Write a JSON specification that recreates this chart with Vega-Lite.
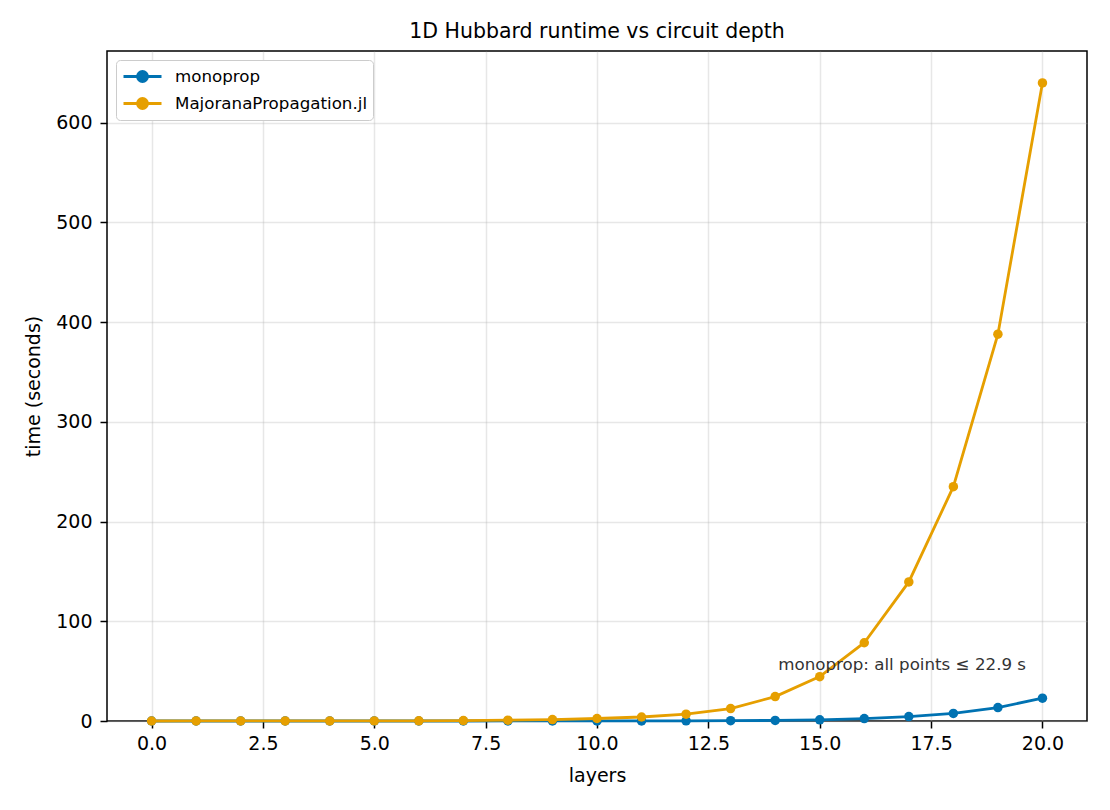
{
  "$schema": "https://vega.github.io/schema/vega-lite/v6.json",
  "width": 980,
  "height": 670,
  "autosize": "none",
  "padding": {"left": 107, "top": 51, "right": 23, "bottom": 89},
  "background": "white",
  "title": {
    "text": "1D Hubbard runtime vs circuit depth",
    "fontSize": 20.5,
    "fontWeight": "normal",
    "font": "DejaVu Sans",
    "color": "black",
    "offset": 9
  },
  "config": {
    "font": "DejaVu Sans",
    "view": {"stroke": "black", "strokeWidth": 1.5},
    "axis": {
      "domain": false,
      "grid": true,
      "gridColor": "#b0b0b0",
      "gridOpacity": 0.3,
      "gridWidth": 1.5,
      "tickColor": "black",
      "tickSize": 7,
      "tickWidth": 1.5,
      "labelFontSize": 19,
      "labelColor": "black",
      "titleFontSize": 19,
      "titleFontWeight": "normal",
      "titleColor": "black"
    }
  },
  "datasets": {
    "runs": [
      {"layers": 0, "series": "monoprop", "time": 0.001},
      {"layers": 1, "series": "monoprop", "time": 0.002},
      {"layers": 2, "series": "monoprop", "time": 0.003},
      {"layers": 3, "series": "monoprop", "time": 0.005},
      {"layers": 4, "series": "monoprop", "time": 0.007},
      {"layers": 5, "series": "monoprop", "time": 0.01},
      {"layers": 6, "series": "monoprop", "time": 0.015},
      {"layers": 7, "series": "monoprop", "time": 0.02},
      {"layers": 8, "series": "monoprop", "time": 0.03},
      {"layers": 9, "series": "monoprop", "time": 0.05},
      {"layers": 10, "series": "monoprop", "time": 0.07},
      {"layers": 11, "series": "monoprop", "time": 0.1},
      {"layers": 12, "series": "monoprop", "time": 0.15},
      {"layers": 13, "series": "monoprop", "time": 0.3},
      {"layers": 14, "series": "monoprop", "time": 0.6},
      {"layers": 15, "series": "monoprop", "time": 1.2},
      {"layers": 16, "series": "monoprop", "time": 2.4},
      {"layers": 17, "series": "monoprop", "time": 4.4},
      {"layers": 18, "series": "monoprop", "time": 7.6},
      {"layers": 19, "series": "monoprop", "time": 13.5},
      {"layers": 20, "series": "monoprop", "time": 22.9},
      {"layers": 0, "series": "MajoranaPropagation.jl", "time": 0.02},
      {"layers": 1, "series": "MajoranaPropagation.jl", "time": 0.03},
      {"layers": 2, "series": "MajoranaPropagation.jl", "time": 0.04},
      {"layers": 3, "series": "MajoranaPropagation.jl", "time": 0.06},
      {"layers": 4, "series": "MajoranaPropagation.jl", "time": 0.08},
      {"layers": 5, "series": "MajoranaPropagation.jl", "time": 0.12},
      {"layers": 6, "series": "MajoranaPropagation.jl", "time": 0.2},
      {"layers": 7, "series": "MajoranaPropagation.jl", "time": 0.4},
      {"layers": 8, "series": "MajoranaPropagation.jl", "time": 0.8},
      {"layers": 9, "series": "MajoranaPropagation.jl", "time": 1.4},
      {"layers": 10, "series": "MajoranaPropagation.jl", "time": 2.5},
      {"layers": 11, "series": "MajoranaPropagation.jl", "time": 4.0},
      {"layers": 12, "series": "MajoranaPropagation.jl", "time": 6.8},
      {"layers": 13, "series": "MajoranaPropagation.jl", "time": 12.5},
      {"layers": 14, "series": "MajoranaPropagation.jl", "time": 24.5},
      {"layers": 15, "series": "MajoranaPropagation.jl", "time": 44.5},
      {"layers": 16, "series": "MajoranaPropagation.jl", "time": 78.5},
      {"layers": 17, "series": "MajoranaPropagation.jl", "time": 139.5},
      {"layers": 18, "series": "MajoranaPropagation.jl", "time": 235},
      {"layers": 19, "series": "MajoranaPropagation.jl", "time": 388},
      {"layers": 20, "series": "MajoranaPropagation.jl", "time": 640}
    ],
    "notes": [
      {"layers": 14, "time": 56, "label": "monoprop: all points ≤ 22.9 s"}
    ]
  },
  "data": {"name": "runs"},
  "encoding": {
    "x": {
      "field": "layers",
      "type": "quantitative",
      "title": "layers",
      "scale": {"domain": [-1, 21], "nice": false, "zero": false},
      "axis": {
        "values": [0, 2.5, 5, 7.5, 10, 12.5, 15, 17.5, 20],
        "format": ".1f",
        "labelPadding": 6,
        "titlePadding": 13
      }
    },
    "y": {
      "field": "time",
      "type": "quantitative",
      "title": "time (seconds)",
      "scale": {"domain": [0, 672], "nice": false},
      "axis": {
        "values": [0, 100, 200, 300, 400, 500, 600],
        "format": "d",
        "labelPadding": 8,
        "titlePadding": 12
      }
    },
    "color": {
      "field": "series",
      "type": "nominal",
      "scale": {
        "domain": ["monoprop", "MajoranaPropagation.jl"],
        "range": ["#0072B2", "#E69F00"]
      },
      "legend": null
    }
  },
  "layer": [
    {
      "transform": [{"filter": "datum.series == 'monoprop'"}],
      "mark": {"type": "line", "strokeWidth": 2.8},
      "encoding": {
        "color": {
          "field": "series",
          "type": "nominal",
          "title": null,
          "legend": {
            "orient": "top-left",
            "offset": 9,
            "padding": 5,
            "title": null,
            "fillColor": "white",
            "strokeColor": "#cccccc",
            "cornerRadius": 4,
            "labelFontSize": 16.7,
            "labelColor": "black",
            "labelLimit": 400,
            "labelOffset": 31,
            "rowPadding": 4,
            "symbolSize": 400,
            "symbolType": "M-0.9,0H2.9M1.5,0A0.5,0.5,0,1,1,0.5,0A0.5,0.5,0,1,1,1.5,0Z",
            "symbolStrokeWidth": 2.8,
            "symbolOpacity": 1,
            "encode": {
              "symbols": {
                "update": {
                  "fill": {"scale": "color", "field": "value"},
                  "stroke": {"scale": "color", "field": "value"}
                }
              }
            }
          }
        }
      }
    },
    {
      "transform": [{"filter": "datum.series == 'monoprop'"}],
      "mark": {"type": "point", "filled": true, "size": 90, "opacity": 1}
    },
    {
      "transform": [{"filter": "datum.series == 'MajoranaPropagation.jl'"}],
      "mark": {"type": "line", "strokeWidth": 2.8}
    },
    {
      "transform": [{"filter": "datum.series == 'MajoranaPropagation.jl'"}],
      "mark": {"type": "point", "filled": true, "size": 90, "opacity": 1}
    },
    {
      "data": {"name": "notes"},
      "mark": {
        "type": "text",
        "align": "left",
        "baseline": "middle",
        "dx": 3,
        "fontSize": 16.7,
        "color": "#333333"
      },
      "encoding": {
        "text": {"field": "label"},
        "color": {"value": "#333333"}
      }
    }
  ]
}
